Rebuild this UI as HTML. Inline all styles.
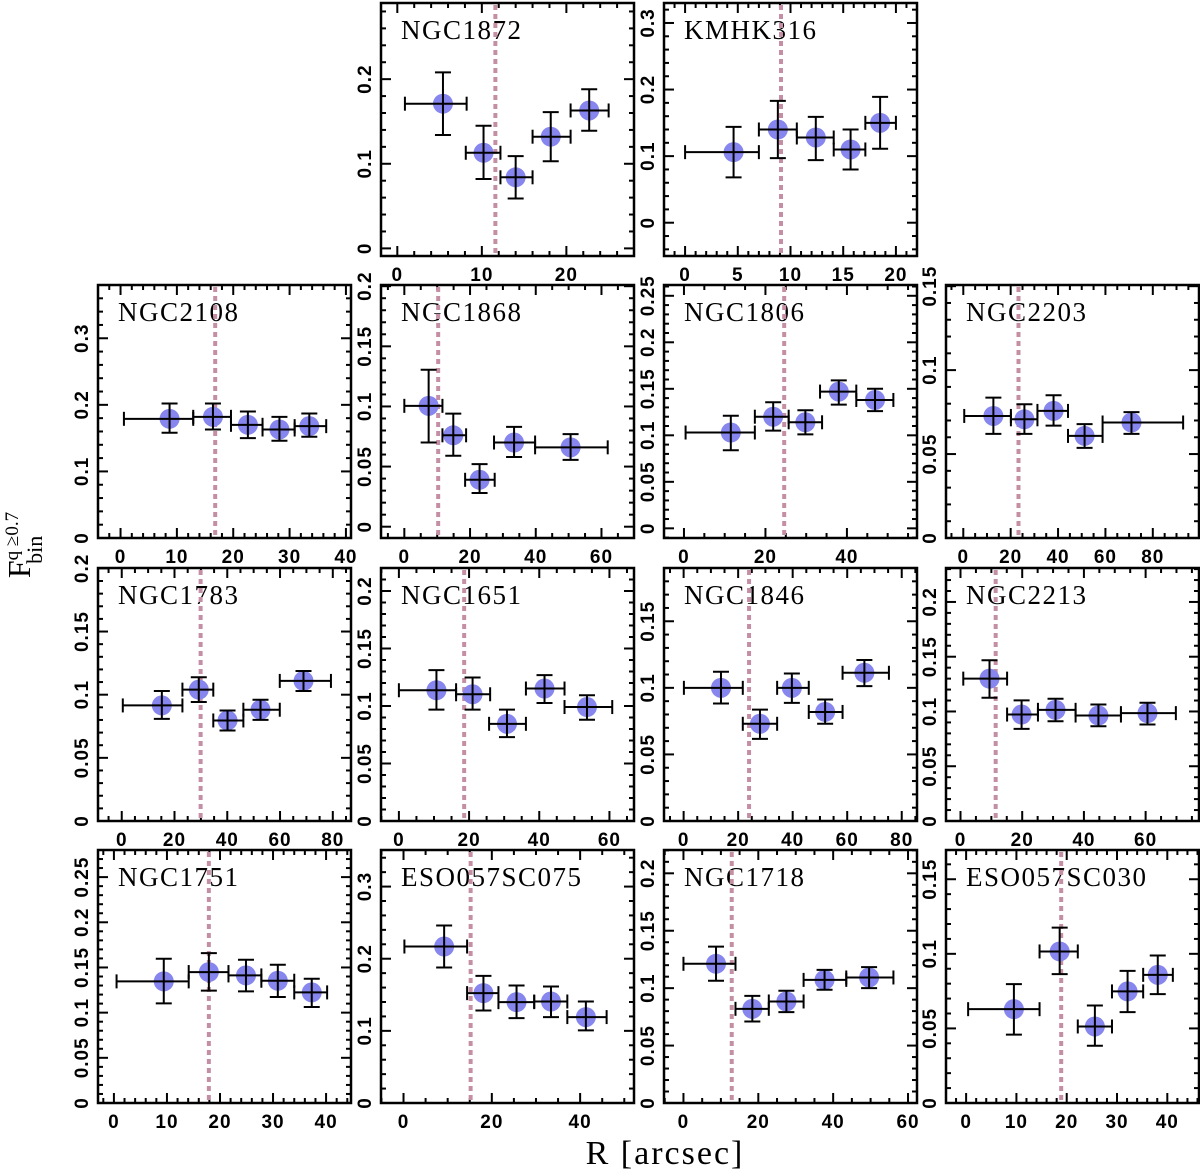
<!DOCTYPE html>
<html><head><meta charset="utf-8"><style>
html,body{margin:0;padding:0;background:#fff;}
svg{display:block;}
.tl{font-family:"Liberation Sans",sans-serif;font-weight:bold;font-size:19px;fill:#000;letter-spacing:1px;}
.tt{font-family:"Liberation Serif",serif;font-size:27px;fill:#000;letter-spacing:1.5px;}
</style></head><body>
<svg id="fig" width="1200" height="1171" viewBox="0 0 1200 1171" xmlns="http://www.w3.org/2000/svg">
<text x="665" y="1164" text-anchor="middle" style="font-family:'Liberation Serif',serif;font-size:34px;letter-spacing:2px;">R [arcsec]</text>
<g transform="translate(30,545) rotate(-90)">
<text x="0" y="0" text-anchor="middle" style="font-family:'Liberation Serif',serif;font-size:32px;">F<tspan dy="-12" font-size="19">q ≥0.7</tspan><tspan dx="-52" dy="24" font-size="22">bin</tspan></text>
</g>
</svg>
<script>
// ---- data (one set of small arrays per cluster) ----
const names = ["NGC1872","KMHK316","NGC2108","NGC1868","NGC1806","NGC2203","NGC1783","NGC1651","NGC1846","NGC2213","NGC1751","ESO057SC075","NGC1718","ESO057SC030"];
const rc_NGC1872 = 11.6;
const x_NGC1872 = [5.4,10.2,14.0,18.15,22.7];
const y_NGC1872 = [0.171,0.113,0.084,0.132,0.163];
const xlo_NGC1872 = [0.9,8.1,12.2,16.0,20.5];
const xhi_NGC1872 = [8.2,12.2,16.0,20.5,25.0];
const ylo_NGC1872 = [0.134,0.082,0.059,0.103,0.139];
const yhi_NGC1872 = [0.208,0.145,0.109,0.161,0.188];

const rc_KMHK316 = 9.1;
const x_KMHK316 = [4.6,8.8,12.4,15.7,18.5];
const y_KMHK316 = [0.106,0.140,0.128,0.110,0.150];
const xlo_KMHK316 = [0.0,7.0,10.6,14.1,17.1];
const xhi_KMHK316 = [7.0,10.6,14.1,17.1,20.0];
const ylo_KMHK316 = [0.068,0.097,0.094,0.080,0.111];
const yhi_KMHK316 = [0.144,0.183,0.159,0.140,0.189];

const rc_NGC2108 = 16.8;
const x_NGC2108 = [8.7,16.4,22.6,28.2,33.5];
const y_NGC2108 = [0.179,0.182,0.170,0.163,0.168];
const xlo_NGC2108 = [0.6,12.9,19.6,25.2,30.9];
const xhi_NGC2108 = [12.9,19.6,25.2,30.9,36.5];
const ylo_NGC2108 = [0.158,0.163,0.150,0.146,0.152];
const yhi_NGC2108 = [0.202,0.202,0.190,0.182,0.187];

const rc_NGC1868 = 10.3;
const x_NGC1868 = [7.4,14.9,22.9,33.4,50.6];
const y_NGC1868 = [0.1005,0.076,0.039,0.070,0.066];
const xlo_NGC1868 = [0.0,11.6,18.5,27.3,39.8];
const xhi_NGC1868 = [11.6,18.8,27.5,39.8,61.9];
const ylo_NGC1868 = [0.070,0.059,0.028,0.058,0.0556];
const yhi_NGC1868 = [0.1305,0.094,0.052,0.083,0.077];

const rc_NGC1806 = 24.6;
const x_NGC1806 = [11.5,21.9,29.8,38.0,46.9];
const y_NGC1806 = [0.103,0.120,0.114,0.147,0.138];
const xlo_NGC1806 = [0.4,17.4,25.7,33.4,42.3];
const xhi_NGC1806 = [17.4,25.7,33.9,42.3,51.4];
const ylo_NGC1806 = [0.084,0.105,0.101,0.133,0.126];
const yhi_NGC1806 = [0.121,0.1355,0.127,0.159,0.150];

const rc_NGC2203 = 23.3;
const x_NGC2203 = [12.7,25.8,38.1,51.2,71.0];
const y_NGC2203 = [0.0727,0.0707,0.0757,0.0608,0.0688];
const xlo_NGC2203 = [0.4,20.1,31.3,44.2,58.8];
const xhi_NGC2203 = [20.1,31.3,44.2,58.8,92.8];
const ylo_NGC2203 = [0.062,0.062,0.0669,0.0537,0.062];
const yhi_NGC2203 = [0.0836,0.0797,0.085,0.0678,0.075];

const rc_NGC1783 = 29.9;
const x_NGC1783 = [15.2,29.2,40.1,52.6,68.9];
const y_NGC1783 = [0.0915,0.104,0.0796,0.0881,0.1109];
const xlo_NGC1783 = [0.4,23.0,34.7,46.1,59.9];
const xhi_NGC1783 = [23.0,34.7,46.1,59.9,79.3];
const ylo_NGC1783 = [0.0809,0.0942,0.0716,0.0801,0.1029];
const yhi_NGC1783 = [0.1029,0.1138,0.0875,0.096,0.1188];

const rc_NGC1651 = 18.6;
const x_NGC1651 = [10.7,21.0,30.8,41.5,53.6];
const y_NGC1651 = [0.1137,0.1102,0.0845,0.1152,0.0991];
const xlo_NGC1651 = [0.0,16.3,25.7,36.2,47.2];
const xhi_NGC1651 = [16.3,26.0,36.2,47.2,60.8];
const ylo_NGC1651 = [0.0968,0.0968,0.0729,0.1026,0.088];
const yhi_NGC1651 = [0.1312,0.1248,0.0968,0.1268,0.1093];

const rc_NGC1846 = 24.0;
const x_NGC1846 = [13.7,28.0,39.7,51.9,66.3];
const y_NGC1846 = [0.100,0.073,0.100,0.0819,0.1113];
const xlo_NGC1846 = [0.1,21.7,34.3,45.9,58.3];
const xhi_NGC1846 = [21.7,34.3,45.9,58.3,75.3];
const ylo_NGC1846 = [0.0882,0.0617,0.0887,0.073,0.1013];
const yhi_NGC1846 = [0.1121,0.0836,0.1108,0.0912,0.1209];

const rc_NGC2213 = 11.4;
const x_NGC2213 = [9.4,19.8,30.8,44.7,60.6];
const y_NGC2213 = [0.130,0.0972,0.1015,0.0963,0.0985];
const xlo_NGC2213 = [0.9,15.1,25.1,37.3,52.0];
const xhi_NGC2213 = [15.1,25.1,37.3,52.0,69.8];
const ylo_NGC2213 = [0.1125,0.0841,0.0911,0.0865,0.0881];
const yhi_NGC2213 = [0.1468,0.1101,0.1116,0.1064,0.108];

const rc_NGC1751 = 17.9;
const x_NGC1751 = [9.4,17.9,24.9,30.9,37.3];
const y_NGC1751 = [0.1346,0.1449,0.1412,0.1353,0.1224];
const xlo_NGC1751 = [0.5,14.1,21.6,27.8,34.0];
const xhi_NGC1751 = [14.1,21.6,27.8,34.0,40.2];
const ylo_NGC1751 = [0.1103,0.1243,0.1235,0.1173,0.1062];
const yhi_NGC1751 = [0.1597,0.1659,0.1586,0.153,0.1375];

const rc_ESO057SC075 = 15.2;
const x_ESO057SC075 = [9.2,18.1,25.6,33.4,41.3];
const y_ESO057SC075 = [0.2169,0.1523,0.1398,0.1407,0.1191];
const xlo_ESO057SC075 = [0.2,14.4,21.5,29.6,37.1];
const xhi_ESO057SC075 = [14.4,21.5,29.6,37.1,46.0];
const ylo_ESO057SC075 = [0.1878,0.1283,0.1177,0.1191,0.1006];
const yhi_ESO057SC075 = [0.246,0.1763,0.1629,0.1615,0.1407];

const rc_NGC1718 = 12.9;
const x_NGC1718 = [8.7,18.4,27.5,37.7,49.6];
const y_NGC1718 = [0.1212,0.082,0.0884,0.1072,0.1093];
const xlo_NGC1718 = [0.0,13.9,22.8,32.1,43.5];
const xhi_NGC1718 = [13.9,22.8,32.1,43.5,56.1];
const ylo_NGC1718 = [0.1064,0.071,0.0791,0.0986,0.100];
const yhi_NGC1718 = [0.1362,0.0933,0.0977,0.1159,0.1183];

const rc_ESO057SC030 = 18.9;
const x_ESO057SC030 = [9.5,18.6,25.6,32.1,38.1];
const y_ESO057SC030 = [0.0629,0.1016,0.0513,0.0748,0.0859];
const xlo_ESO057SC030 = [0.4,14.6,22.2,29.0,35.2];
const xhi_ESO057SC030 = [14.6,22.2,29.0,35.2,41.1];
const ylo_ESO057SC030 = [0.0458,0.0864,0.0384,0.0609,0.073];
const yhi_ESO057SC030 = [0.0797,0.1176,0.0654,0.0886,0.0989];

const DATA = {
 NGC1872:[x_NGC1872,y_NGC1872,xlo_NGC1872,xhi_NGC1872,ylo_NGC1872,yhi_NGC1872,rc_NGC1872],
 KMHK316:[x_KMHK316,y_KMHK316,xlo_KMHK316,xhi_KMHK316,ylo_KMHK316,yhi_KMHK316,rc_KMHK316],
 NGC2108:[x_NGC2108,y_NGC2108,xlo_NGC2108,xhi_NGC2108,ylo_NGC2108,yhi_NGC2108,rc_NGC2108],
 NGC1868:[x_NGC1868,y_NGC1868,xlo_NGC1868,xhi_NGC1868,ylo_NGC1868,yhi_NGC1868,rc_NGC1868],
 NGC1806:[x_NGC1806,y_NGC1806,xlo_NGC1806,xhi_NGC1806,ylo_NGC1806,yhi_NGC1806,rc_NGC1806],
 NGC2203:[x_NGC2203,y_NGC2203,xlo_NGC2203,xhi_NGC2203,ylo_NGC2203,yhi_NGC2203,rc_NGC2203],
 NGC1783:[x_NGC1783,y_NGC1783,xlo_NGC1783,xhi_NGC1783,ylo_NGC1783,yhi_NGC1783,rc_NGC1783],
 NGC1651:[x_NGC1651,y_NGC1651,xlo_NGC1651,xhi_NGC1651,ylo_NGC1651,yhi_NGC1651,rc_NGC1651],
 NGC1846:[x_NGC1846,y_NGC1846,xlo_NGC1846,xhi_NGC1846,ylo_NGC1846,yhi_NGC1846,rc_NGC1846],
 NGC2213:[x_NGC2213,y_NGC2213,xlo_NGC2213,xhi_NGC2213,ylo_NGC2213,yhi_NGC2213,rc_NGC2213],
 NGC1751:[x_NGC1751,y_NGC1751,xlo_NGC1751,xhi_NGC1751,ylo_NGC1751,yhi_NGC1751,rc_NGC1751],
 ESO057SC075:[x_ESO057SC075,y_ESO057SC075,xlo_ESO057SC075,xhi_ESO057SC075,ylo_ESO057SC075,yhi_ESO057SC075,rc_ESO057SC075],
 NGC1718:[x_NGC1718,y_NGC1718,xlo_NGC1718,xhi_NGC1718,ylo_NGC1718,yhi_NGC1718,rc_NGC1718],
 ESO057SC030:[x_ESO057SC030,y_ESO057SC030,xlo_ESO057SC030,xhi_ESO057SC030,ylo_ESO057SC030,yhi_ESO057SC030,rc_ESO057SC030]
};

// ---- layout (presentation) ----
const LAYOUT = {
 NGC1872:[1,0,-1.93,28.0,-0.009,0.29,10,2,0.1,0.02],
 KMHK316:[2,0,-2,22,-0.05,0.33,5,1,0.1,0.02],
 NGC2108:[0,1,-4,40.9,0,0.38,10,2,0.1,0.02],
 NGC1868:[1,1,-7.1,69.9,-0.0094,0.201,20,5,0.05,0.01],
 NGC1806:[2,1,-4.9,57.2,-0.0104,0.2616,20,5,0.05,0.01],
 NGC2203:[3,1,-7.3,99.5,0,0.1507,20,5,0.05,0.01],
 NGC1783:[0,2,-9,86.9,0,0.2003,20,5,0.05,0.01],
 NGC1651:[1,2,-5.1,67,0,0.22,20,5,0.05,0.01],
 NGC1846:[2,2,-7.2,85.6,0,0.19,20,5,0.05,0.01],
 NGC2213:[3,2,-4.7,77.3,0,0.231,20,5,0.05,0.01],
 NGC1751:[0,3,-3,44.7,0,0.28,10,2,0.05,0.01],
 ESO057SC075:[1,3,-5.1,52.2,0,0.3507,20,5,0.1,0.02],
 NGC1718:[2,3,-5.2,62.4,0,0.2203,20,5,0.05,0.01],
 ESO057SC030:[3,3,-4,46.3,0,0.1696,10,2,0.05,0.01]
};
const COLX=[98,381,664,946], ROWY=[3,285,568,850], W=253, H=253;
const NS="http://www.w3.org/2000/svg";
const svg=document.getElementById('fig');
function mk(tag,attrs,parent){const e=document.createElementNS(NS,tag);for(const k in attrs)e.setAttribute(k,attrs[k]);parent.appendChild(e);return e;}
function fmt(v){return (Math.round(v*1000)/1000).toString();}

names.forEach(name=>{
  const L=LAYOUT[name], D=DATA[name];
  const px=COLX[L[0]], py=ROWY[L[1]];
  const [x0,x1,y0,y1,xM,xm,yM,ym]=L.slice(2);
  const sx=v=>px+(v-x0)/(x1-x0)*W;
  const sy=v=>py+H-(v-y0)/(y1-y0)*H;
  const g=mk('g',{},svg);
  
  
  const tg=mk('g',{stroke:'#000','stroke-width':2},g);
  
  
  for(let v=Math.ceil(x0/xm-1e-6)*xm; v<=x1+1e-9; v+=xm){
    const isM=Math.abs(v/xM-Math.round(v/xM))<1e-6; const len=isM?10:5; const X=sx(v);
    mk('line',{x1:X,y1:py+H,x2:X,y2:py+H-len},tg); mk('line',{x1:X,y1:py,x2:X,y2:py+len},tg);
    if(isM){const t=mk('text',{x:X,y:py+H+25,'text-anchor':'middle',class:'tl'},g);t.textContent=fmt(v);
      
      }
  }
  for(let v=Math.ceil(y0/ym-1e-6)*ym; v<=y1+1e-9; v+=ym){
    const isM=Math.abs(v/yM-Math.round(v/yM))<1e-6; const len=isM?10:5; const Y=sy(v);
    mk('line',{x1:px,y1:Y,x2:px+len,y2:Y},tg); mk('line',{x1:px+W,y1:Y,x2:px+W-len,y2:Y},tg);
    if(isM){const t=mk('text',{x:0,y:0,'text-anchor':'middle',class:'tl',transform:`translate(${px-10},${Y}) rotate(-90)`},g);t.textContent=fmt(v);
      
      }
  }
  const tt=mk('text',{x:px+20,y:py+36,class:'tt'},g); tt.textContent=name;
  
  
  const vl=mk('line',{x1:sx(D[6]),y1:py+2,x2:sx(D[6]),y2:py+H-1,stroke:'#c48fa5','stroke-width':4,'stroke-dasharray':'5,4'},g);
  
  
  D[0].forEach((xv,i)=>{
    const cx=sx(xv), cy=sy(D[1][i]);
    const c=mk('circle',{cx:cx,cy:cy,r:10,fill:'#8686ee'},g);
    
    
    const e=mk('g',{stroke:'#000','stroke-width':2},g);
    
    
    const xa=sx(D[2][i]), xb=sx(D[3][i]), ya=sy(D[4][i]), yb=sy(D[5][i]);
    mk('line',{x1:xa,y1:cy,x2:xb,y2:cy},e);
    mk('line',{x1:xa,y1:cy-7,x2:xa,y2:cy+7},e);
    mk('line',{x1:xb,y1:cy-7,x2:xb,y2:cy+7},e);
    mk('line',{x1:cx,y1:ya,x2:cx,y2:yb},e);
    mk('line',{x1:cx-8,y1:ya,x2:cx+8,y2:ya},e);
    mk('line',{x1:cx-8,y1:yb,x2:cx+8,y2:yb},e);
  });
  const fr=mk('rect',{x:px,y:py,width:W,height:H,fill:'none',stroke:'#000','stroke-width':2.5},g);
  
  
});
</script>
</body></html>
